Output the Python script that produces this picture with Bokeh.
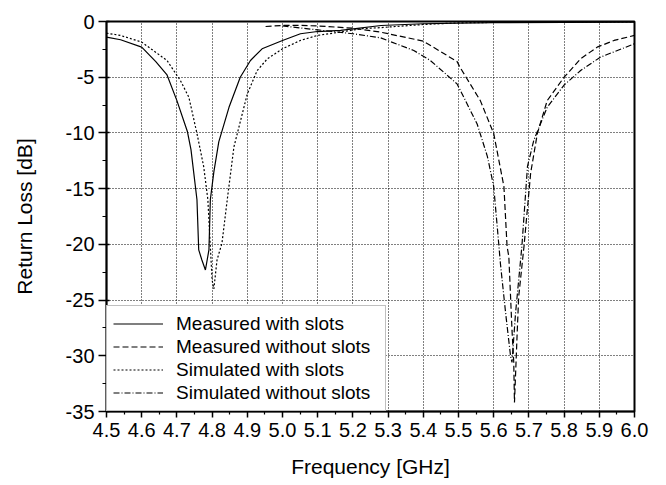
from bokeh.plotting import figure
from bokeh.models import Range1d, FixedTicker
from bokeh.embed import file_html
from bokeh.resources import INLINE

# ---- data ----
freq_meas_slots = [4.50, 4.54, 4.60, 4.64, 4.672, 4.70, 4.73, 4.74, 4.757, 4.762, 4.771, 4.781,
                   4.791, 4.795, 4.805, 4.819, 4.848, 4.88, 4.909, 4.942, 5.00, 5.051, 5.099,
                   5.165, 5.28, 5.40, 5.60, 5.80, 6.00]
rl_meas_slots = [-1.4, -1.64, -2.3, -3.6, -4.8, -7.1, -9.9, -11.5, -16.0, -20.5, -21.4, -22.3,
                 -20.5, -16.0, -13.5, -10.8, -7.7, -5.0, -3.5, -2.45, -1.7, -1.1, -0.9,
                 -0.8, -0.36, -0.2, -0.1, -0.08, -0.05]

freq_meas_noslots = [4.952, 5.00, 5.05, 5.10, 5.20, 5.278, 5.40, 5.496, 5.506, 5.562, 5.60, 5.629,
                     5.638, 5.643, 5.652, 5.657, 5.659, 5.667, 5.671, 5.686, 5.705, 5.724, 5.752,
                     5.80, 5.847, 5.894, 5.942, 6.00]
rl_meas_noslots = [-0.45, -0.35, -0.35, -0.4, -0.6, -0.95, -1.76, -3.6, -4.2, -7.1, -10.05, -14.8,
                   -20.2, -21.1, -27.7, -30.6, -34.2, -27.7, -24.7, -20.2, -13.6, -10.05, -7.1,
                   -5.0, -3.35, -2.3, -1.7, -1.25]

freq_sim_slots = [4.50, 4.54, 4.60, 4.672, 4.71, 4.734, 4.757, 4.776, 4.788, 4.793, 4.80, 4.805,
                  4.814, 4.828, 4.843, 4.862, 4.90, 4.928, 4.957, 5.00, 5.051, 5.099, 5.165,
                  5.222, 5.278, 5.40, 5.50, 5.70, 6.00]
rl_sim_slots = [-1.05, -1.25, -1.85, -3.5, -5.3, -6.8, -10.05, -13.0, -16.0, -19.0, -23.2, -24.0,
                -21.4, -19.9, -16.0, -11.25, -6.5, -4.4, -3.35, -2.45, -1.7, -1.25, -0.95,
                -0.65, -0.55, -0.27, -0.12, -0.05, -0.03]

freq_sim_noslots = [5.00, 5.10, 5.20, 5.278, 5.373, 5.42, 5.496, 5.553, 5.582, 5.60, 5.615, 5.619,
                    5.634, 5.648, 5.652, 5.662, 5.68, 5.696, 5.714, 5.752, 5.80, 5.847, 5.903, 6.00]
rl_sim_noslots = [-0.4, -0.75, -1.1, -1.46, -2.6, -3.5, -5.6, -9.2, -12.1, -14.8, -20.2, -21.7,
                  -26.2, -30.05, -30.6, -26.2, -20.2, -13.0, -10.65, -7.7, -5.7, -4.4, -3.2, -2.0]

x_ticks = [4.5, 4.6, 4.7, 4.8, 4.9, 5.0, 5.1, 5.2, 5.3, 5.4, 5.5, 5.6, 5.7, 5.8, 5.9, 6.0]
x_minor = [4.55, 4.65, 4.75, 4.85, 4.95, 5.05, 5.15, 5.25, 5.35, 5.45, 5.55, 5.65, 5.75, 5.85, 5.95]
y_ticks = [-35, -30, -25, -20, -15, -10, -5, 0]
y_minor = [-32.5, -27.5, -22.5, -17.5, -12.5, -7.5, -2.5]

FONT = "Liberation Sans"

p = figure(width=658, height=480, output_backend="svg", toolbar_location=None,
           x_range=Range1d(4.5, 6.0), y_range=Range1d(-35, 0),
           min_border_left=106, min_border_right=24, min_border_top=21, min_border_bottom=68)

p.outline_line_color = "black"
p.outline_line_width = 2
p.background_fill_color = "white"

xt = FixedTicker(ticks=x_ticks, minor_ticks=x_minor)
yt = FixedTicker(ticks=y_ticks, minor_ticks=y_minor)
p.xaxis.ticker = xt
p.yaxis.ticker = yt
p.xgrid.ticker = FixedTicker(ticks=x_ticks)
p.ygrid.ticker = FixedTicker(ticks=y_ticks)

for g in (p.xgrid, p.ygrid):
    g.grid_line_color = "black"
    g.grid_line_dash = "1 2"
    g.grid_line_width = 1
    g.grid_line_alpha = 1.0

p.xaxis.major_label_overrides = {t: f"{t:.1f}" for t in x_ticks}
p.yaxis.major_label_overrides = {t: f"{t}" for t in y_ticks}

for ax in (p.xaxis, p.yaxis):
    ax.axis_line_color = "black"
    ax.axis_line_width = 1.5
    ax.major_tick_line_color = "black"
    ax.minor_tick_line_color = "black"
    ax.major_tick_line_width = 1.5
    ax.minor_tick_line_width = 1.2
    ax.major_label_text_font = FONT
    ax.major_label_text_font_size = "20px"
    ax.major_label_text_color = "black"
    ax.axis_label_text_font = FONT
    ax.axis_label_text_font_size = "21px"
    ax.axis_label_text_font_style = "normal"
    ax.axis_label_text_color = "black"

p.xaxis.major_tick_out = 6
p.xaxis.major_tick_in = 0
p.xaxis.minor_tick_out = 3
p.xaxis.minor_tick_in = 0
p.xaxis.major_label_standoff = 5
p.xaxis.axis_label = "Frequency [GHz]"
p.xaxis.axis_label_standoff = 15

p.yaxis.major_tick_out = 8
p.yaxis.major_tick_in = 3
p.yaxis.minor_tick_out = 4
p.yaxis.minor_tick_in = 0
p.yaxis.major_label_standoff = 4
p.yaxis.axis_label = "Return Loss [dB]"
p.yaxis.axis_label_standoff = 27

lw = 1.2
p.line(freq_meas_slots, rl_meas_slots, line_color="black", line_width=lw,
       legend_label="Measured with slots")
p.line(freq_meas_noslots, rl_meas_noslots, line_color="black", line_width=lw,
       line_dash="6 3", legend_label="Measured without slots")
p.line(freq_sim_slots, rl_sim_slots, line_color="black", line_width=lw,
       line_dash="2 2", legend_label="Simulated with slots")
p.line(freq_sim_noslots, rl_sim_noslots, line_color="black", line_width=lw,
       line_dash="6 2 1 2", legend_label="Simulated without slots")

lg = p.legend[0]
lg.location = "bottom_left"
lg.margin = 0
lg.padding = 6
lg.spacing = 0
lg.glyph_width = 50
lg.glyph_height = 23
lg.label_height = 23
lg.label_standoff = 13
lg.label_width = 203
lg.label_text_font = FONT
lg.label_text_font_size = "19px"
lg.label_text_color = "black"
lg.border_line_color = "#808080"
lg.border_line_width = 1.5
lg.background_fill_color = "white"
lg.background_fill_alpha = 1.0

open("out.html", "w").write(file_html(p, INLINE))
